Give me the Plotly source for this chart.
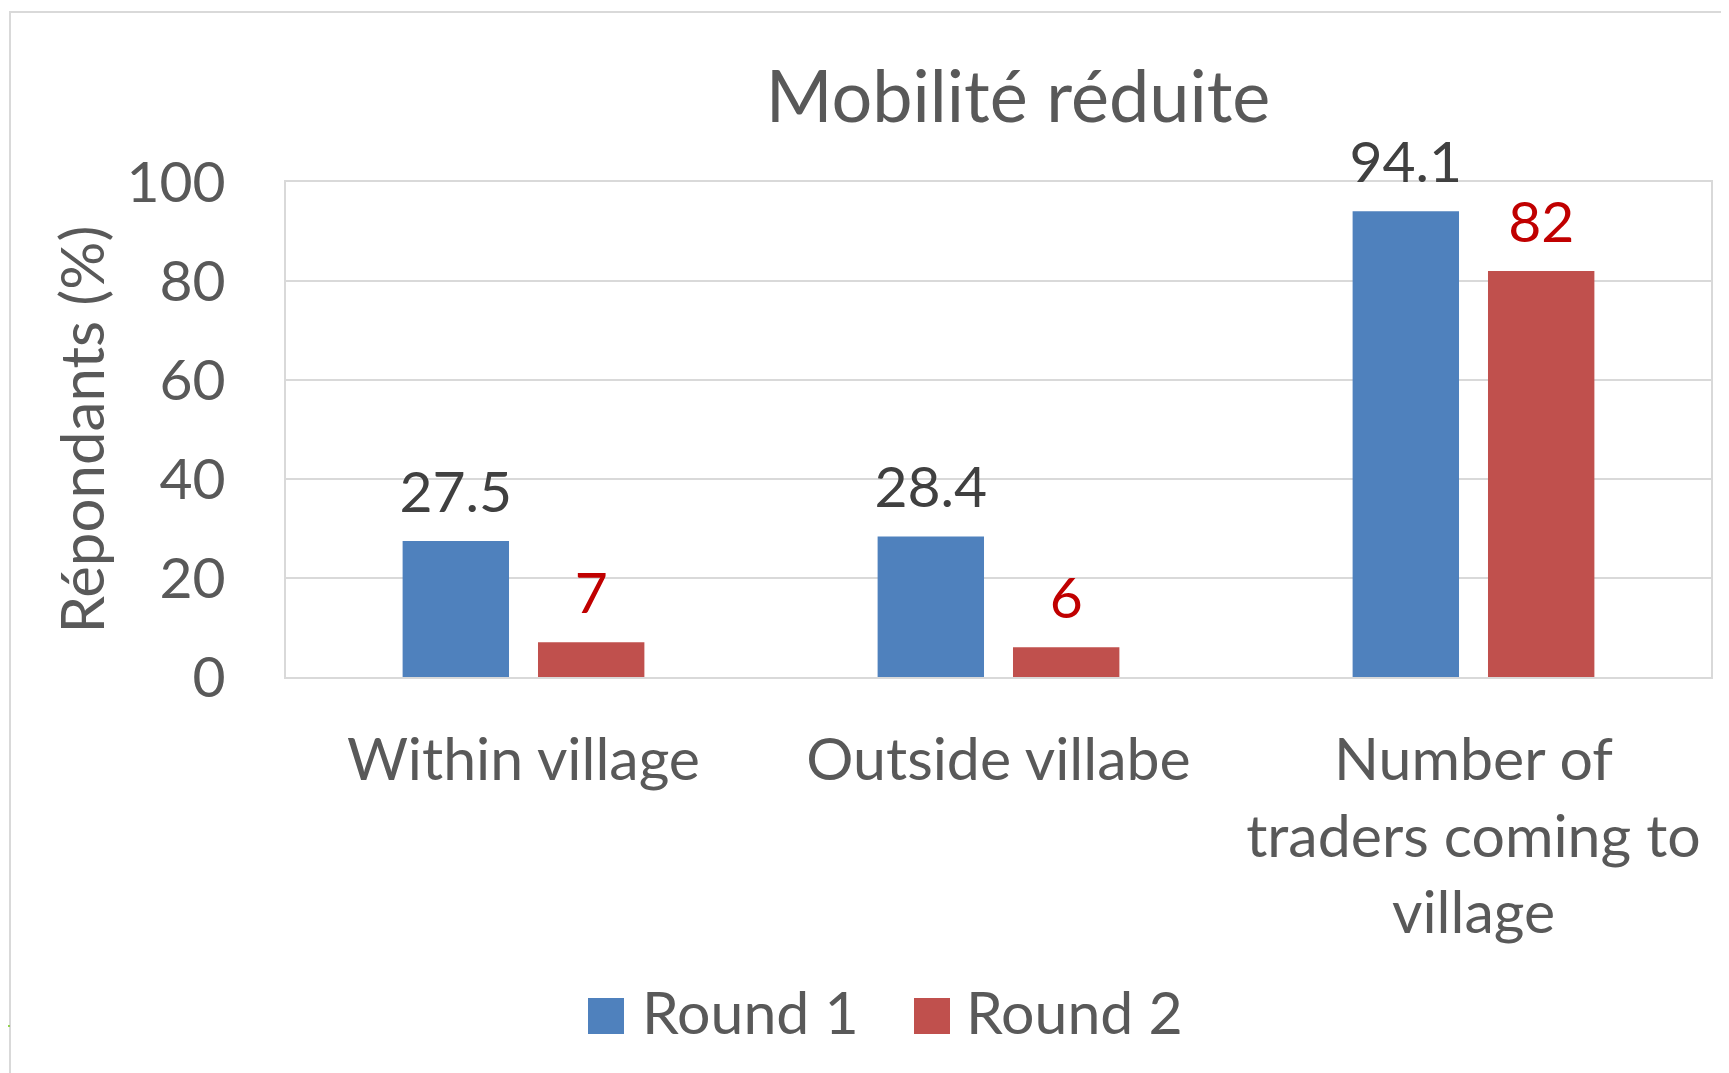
import plotly.graph_objects as go

# ---- data ----
categories = ["Within village", "Outside villabe", "Number of<br>traders coming to<br>village"]
series_names = ["Round 1", "Round 2"]
round1 = [27.5, 28.4, 94.1]
round2 = [7, 6, 82]
bar_colors = ["#4F81BD", "#C0504D"]
label_colors = ["#404040", "#C00000"]
y_ticks = [0, 20, 40, 60, 80, 100]

FONT = "Lato"
GRAY = "#595959"
OFF = 8  # page body margin
W, H = 1729 - OFF, 1073 - OFF
L, T = 286 - OFF, 182 - OFF
R = W - (1711 - OFF)
B = H - (677 - OFF)
PW, PH = W - L - R, H - T - B


def px_x(px):
    return (px - OFF - L) / PW


def px_y(py):
    return (H - B - (py - OFF)) / PH


fig = go.Figure()
for name, vals, col in zip(series_names, [round1, round2], bar_colors):
    fig.add_trace(go.Bar(x=categories, y=vals, name=name, marker_color=col,
                         marker_line_width=0, showlegend=False))

# data labels as grouped text scatter traces (aligned with bars)
for name, vals, col in zip(series_names, [round1, round2], label_colors):
    fig.add_trace(go.Scatter(x=categories, y=vals, mode="markers+text",
                             text=[f"{v:g}" for v in vals], textposition="top center",
                             textfont=dict(family=FONT, size=57, color=col),
                             marker=dict(size=22, opacity=0), showlegend=False,
                             hoverinfo="skip", cliponaxis=False))

shapes = [
    # outer chart border
    dict(type="rect", xref="paper", yref="paper", x0=px_x(10), x1=px_x(1760),
         y0=px_y(1100), y1=px_y(12), line=dict(color="#D9D9D9", width=2), layer="below"),
    # small green mark at the left edge
    dict(type="line", xref="paper", yref="paper", x0=px_x(8), x1=px_x(10),
         y0=px_y(1026), y1=px_y(1026), line=dict(color="#92D050", width=2)),
]
annotations = []
legend_sw_x = [588, 914]
legend_tx_x = [640, 964]
for name, col, sx, tx in zip(series_names, bar_colors, legend_sw_x, legend_tx_x):
    shapes.append(dict(type="rect", xref="paper", yref="paper", x0=px_x(sx), x1=px_x(sx + 36),
                       y0=px_y(1034), y1=px_y(998), fillcolor=col, line=dict(width=0)))
    annotations.append(dict(text=name, xref="paper", yref="paper", x=px_x(tx), y=px_y(1011),
                            xanchor="left", yanchor="middle", showarrow=False,
                            font=dict(family=FONT, size=59, color=GRAY)))

fig.update_layout(
    width=W, height=H,
    margin=dict(l=L, r=R, t=T, b=B),
    paper_bgcolor="white", plot_bgcolor="white",
    barmode="group", bargap=0.43, bargroupgap=0.214,
    scattermode="group",
    showlegend=False,
    font=dict(family=FONT, color=GRAY, size=57),
    title=dict(text="Mobilité réduite", x=px_x(1018), xref="paper", xanchor="center",
               y=1 - (96.5 - OFF) / H, yref="container", yanchor="middle",
               font=dict(family=FONT, size=72, color=GRAY)),
    shapes=shapes,
    annotations=annotations,
)
fig.update_xaxes(showline=True, mirror=True, linecolor="#D9D9D9", linewidth=2,
                 showgrid=False, ticks="", ticklabelstandoff=30, layer="below traces",
                 tickfont=dict(family=FONT, size=59, color=GRAY))
fig.update_yaxes(range=[0, 100], tickvals=y_ticks, showline=True, mirror=True,
                 linecolor="#D9D9D9", linewidth=2, showgrid=True, gridcolor="#D9D9D9",
                 gridwidth=2, zeroline=False, ticks="", ticklabelstandoff=47,
                 layer="below traces",
                 tickfont=dict(family=FONT, size=57, color=GRAY),
                 title=dict(text="Répondants (%)", standoff=2,
                            font=dict(family=FONT, size=60, color=GRAY)))

fig.write_html("out.html")
